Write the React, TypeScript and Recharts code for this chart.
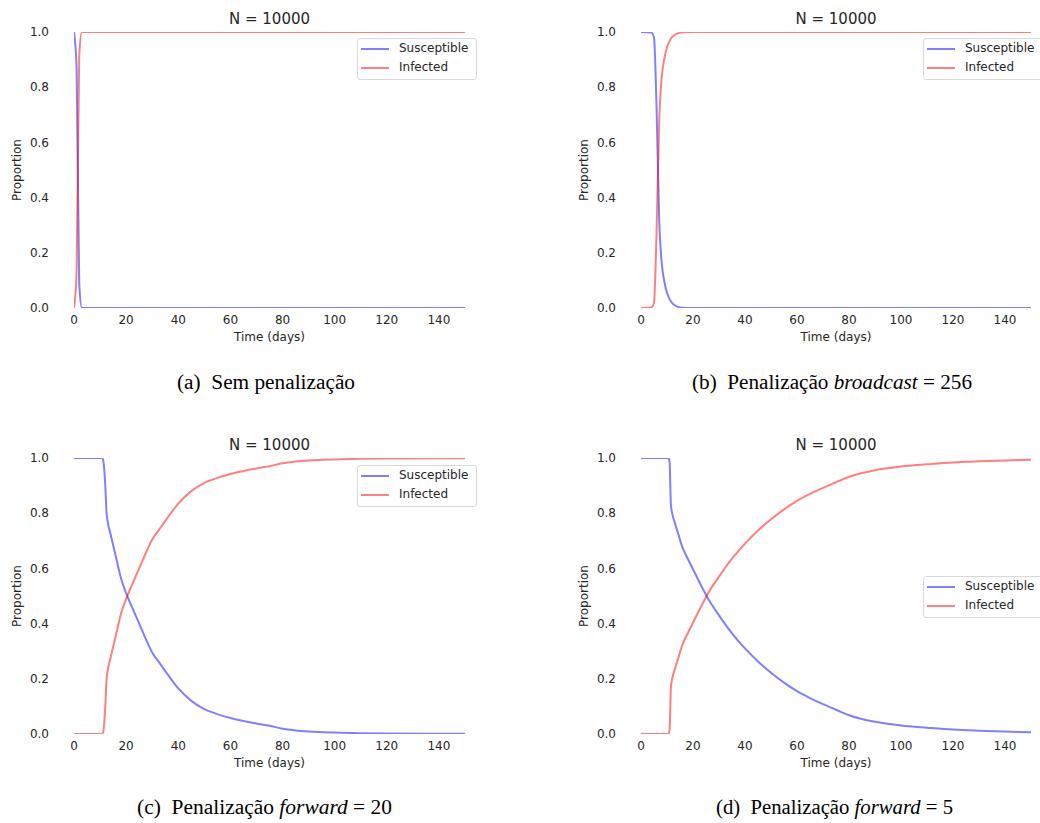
import React from 'react';
import { LineChart, Line, XAxis, YAxis, Legend, Label } from 'recharts';

// ---------- data ----------
const timeA = [0, 1, 2, 3, 150];
const susceptibleA = [1.0, 0.87, 0.09, 0.0, 0.0];
const infectedA = [0.0, 0.13, 0.91, 1.0, 1.0];

const timeB = [0, 4, 5, 6, 7, 8, 9, 10, 11, 12, 13, 14, 16, 20, 150];
const susceptibleB = [1.0, 0.998, 0.98, 0.72, 0.32, 0.16, 0.095, 0.055, 0.032, 0.018, 0.01, 0.005, 0.001, 0.0, 0.0];
const infectedB = [0.0, 0.002, 0.02, 0.28, 0.68, 0.84, 0.905, 0.945, 0.968, 0.982, 0.99, 0.995, 0.999, 1.0, 1.0];

const timeC = [0, 11, 11.5, 12, 12.5, 13, 14, 15, 16, 18, 20, 22, 25, 28, 30, 33, 36, 40, 45, 50, 55, 60, 65, 70, 75, 80, 85, 90, 100, 110, 120, 150];
const susceptibleC = [1.0, 1.0, 0.97, 0.9, 0.8, 0.765, 0.725, 0.685, 0.645, 0.565, 0.51, 0.465, 0.4, 0.335, 0.295, 0.255, 0.215, 0.165, 0.12, 0.09, 0.072, 0.058, 0.047, 0.038, 0.03, 0.019, 0.013, 0.009, 0.005, 0.003, 0.002, 0.001];
const infectedC = [0.0, 0.0, 0.03, 0.1, 0.2, 0.235, 0.275, 0.315, 0.355, 0.435, 0.49, 0.535, 0.6, 0.665, 0.705, 0.745, 0.785, 0.835, 0.88, 0.91, 0.928, 0.942, 0.953, 0.962, 0.97, 0.981, 0.987, 0.991, 0.995, 0.997, 0.998, 0.999];

const timeD = [0, 10.5, 11, 11.5, 12, 13, 14, 16, 18, 20, 23, 26, 30, 35, 40, 45, 50, 55, 60, 65, 70, 75, 80, 90, 100, 110, 120, 130, 140, 150];
const susceptibleD = [1.0, 1.0, 0.985, 0.83, 0.8, 0.765, 0.735, 0.675, 0.635, 0.597, 0.54, 0.487, 0.43, 0.365, 0.31, 0.263, 0.222, 0.186, 0.155, 0.13, 0.108, 0.088, 0.068, 0.044, 0.031, 0.023, 0.016, 0.012, 0.009, 0.006];
const infectedD = [0.0, 0.0, 0.015, 0.17, 0.2, 0.235, 0.265, 0.325, 0.365, 0.403, 0.46, 0.513, 0.57, 0.635, 0.69, 0.737, 0.778, 0.814, 0.845, 0.87, 0.892, 0.912, 0.932, 0.956, 0.969, 0.977, 0.984, 0.988, 0.991, 0.994];

const xTicks = [0, 20, 40, 60, 80, 100, 120, 140];
const yTicks = [0, 0.2, 0.4, 0.6, 0.8, 1.0];
const seriesNames = ['Susceptible', 'Infected'];
const chartTitle = 'N = 10000';
const xLabel = 'Time (days)';
const yLabel = 'Proportion';

const FONT = '"DejaVu Sans", sans-serif';
const TEXT = '#262626';
const BLUE = '#0000ff';
const RED = '#ff0000';

function buildRows(t: number[], s: number[], i: number[]) {
  return t.map((x, k) => ({ t: x, s: s[k], i: i[k] }));
}

const LegendBox = (props: any) => {
  const payload = [...(props.payload || [])].sort(
    (a: any, b: any) => seriesNames.indexOf(a.value) - seriesNames.indexOf(b.value)
  );
  return (
    <div
      style={{
        width: 120,
        height: 42,
        boxSizing: 'border-box',
        border: '1px solid #d9d9d9',
        borderRadius: 3,
        background: 'rgba(255,255,255,0.8)',
        position: 'relative',
        fontFamily: FONT,
        fontSize: 12,
        color: TEXT,
      }}
    >
      {payload.map((entry: any, k: number) => (
        <div key={k}>
          <div
            style={{
              position: 'absolute',
              left: 3,
              top: 9 + k * 19,
              width: 28,
              height: 2,
              background: entry.color,
              opacity: 0.5,
            }}
          />
          <div
            style={{
              position: 'absolute',
              left: 41,
              top: 2 + k * 19,
              lineHeight: '15px',
              whiteSpace: 'nowrap',
            }}
          >
            {entry.value}
          </div>
        </div>
      ))}
    </div>
  );
};

type PanelProps = {
  left: number;
  top: number;
  width: number;
  rightMargin: number;
  rows: any[];
  legendLeft: number;
  legendTop: number;
};

const tickStyle = { fontSize: 12, fill: TEXT, fontFamily: FONT };

function Panel({ left, top, width, rightMargin, rows, legendLeft, legendTop }: PanelProps) {
  return (
    <div style={{ position: 'absolute', left, top }}>
      <LineChart
        width={width}
        height={350}
        data={rows}
        margin={{ top: 32, right: rightMargin, bottom: 0, left: 0 }}
      >
        <XAxis
          dataKey="t"
          type="number"
          domain={[0, 150]}
          ticks={xTicks}
          interval={0}
          axisLine={false}
          tickLine={false}
          tickSize={0}
          tickMargin={7}
          tick={tickStyle}
          height={42}
          allowDataOverflow
        >
          <Label
            value={xLabel}
            position="insideTop"
            offset={24}
            style={{ fontSize: 12, fill: TEXT, fontFamily: FONT }}
          />
        </XAxis>
        <YAxis
          type="number"
          domain={[0, 1]}
          ticks={yTicks}
          interval={0}
          axisLine={false}
          tickLine={false}
          tickSize={0}
          tickMargin={25}
          tick={tickStyle}
          tickFormatter={(v: number) => v.toFixed(1)}
          width={74}
          allowDataOverflow
        >
          <Label
            value={yLabel}
            angle={-90}
            position="insideLeft"
            offset={17}
            style={{ fontSize: 12, fill: TEXT, fontFamily: FONT, textAnchor: 'middle' }}
          />
        </YAxis>
        <Legend
          verticalAlign="middle"
          align="center"
          layout="horizontal"
          width={120}
          wrapperStyle={{ left: legendLeft, top: legendTop, width: 120, height: 42 }}
          content={(p: any) => <LegendBox payload={p.payload} />}
        />
        <Line
          dataKey="s"
          name={seriesNames[0]}
          type="monotone"
          stroke={BLUE}
          strokeOpacity={0.5}
          strokeWidth={2}
          dot={false}
          activeDot={false}
          isAnimationActive={false}
        />
        <Line
          dataKey="i"
          name={seriesNames[1]}
          type="monotone"
          stroke={RED}
          strokeOpacity={0.5}
          strokeWidth={2}
          dot={false}
          activeDot={false}
          isAnimationActive={false}
        />
      </LineChart>
    </div>
  );
}

const SERIF = '"Liberation Serif", "Times New Roman", serif';

function Caption({ x, y, label, body, italic, tail, len }: any) {
  return (
    <text
      x={x}
      y={y}
      textAnchor="middle"
      fontFamily={SERIF}
      fontSize={20}
      fill="#000"
      textLength={len}
      lengthAdjust="spacingAndGlyphs"
    >
      <tspan>{label}</tspan>
      <tspan dx={10}>{body}</tspan>
      {italic ? <tspan fontStyle="italic" dx={5}>{italic}</tspan> : null}
      {tail ? <tspan dx={0}>{tail}</tspan> : null}
    </text>
  );
}

export default function App() {
  return (
    <div
      style={{
        position: 'absolute',
        left: 0,
        top: 0,
        width: 1040,
        height: 823,
        overflow: 'hidden',
        background: '#fff',
      }}
    >
      <svg
        width={1040}
        height={823}
        style={{ position: 'absolute', left: 0, top: 0, pointerEvents: 'none' }}
      >
        <text x={269.5} y={24} textAnchor="middle" fontFamily={FONT} fontSize={15} fill={TEXT}>
          {chartTitle}
        </text>
        <text x={836} y={24} textAnchor="middle" fontFamily={FONT} fontSize={15} fill={TEXT}>
          {chartTitle}
        </text>
        <text x={269.5} y={450} textAnchor="middle" fontFamily={FONT} fontSize={15} fill={TEXT}>
          {chartTitle}
        </text>
        <text x={836} y={450} textAnchor="middle" fontFamily={FONT} fontSize={15} fill={TEXT}>
          {chartTitle}
        </text>
        <Caption x={266} y={389} label="(a)" body="Sem penalização" len={178} />
        <Caption x={832} y={389} label="(b)" body="Penalização" italic="broadcast" tail=" = 256" len={280} />
        <Caption x={264.5} y={814} label="(c)" body="Penalização" italic="forward" tail=" = 20" len={255} />
        <Caption x={834.5} y={814} label="(d)" body="Penalização" italic="forward" tail=" = 5" len={237} />
      </svg>
      <Panel
        left={0}
        top={0}
        width={520}
        rightMargin={55}
        rows={buildRows(timeA, susceptibleA, infectedA)}
        legendLeft={357}
        legendTop={38}
      />
      <Panel
        left={567}
        top={0}
        width={473}
        rightMargin={9}
        rows={buildRows(timeB, susceptibleB, infectedB)}
        legendLeft={356}
        legendTop={38}
      />
      <Panel
        left={0}
        top={426}
        width={520}
        rightMargin={55}
        rows={buildRows(timeC, susceptibleC, infectedC)}
        legendLeft={357}
        legendTop={39}
      />
      <Panel
        left={567}
        top={426}
        width={473}
        rightMargin={9}
        rows={buildRows(timeD, susceptibleD, infectedD)}
        legendLeft={356}
        legendTop={150}
      />
    </div>
  );
}
